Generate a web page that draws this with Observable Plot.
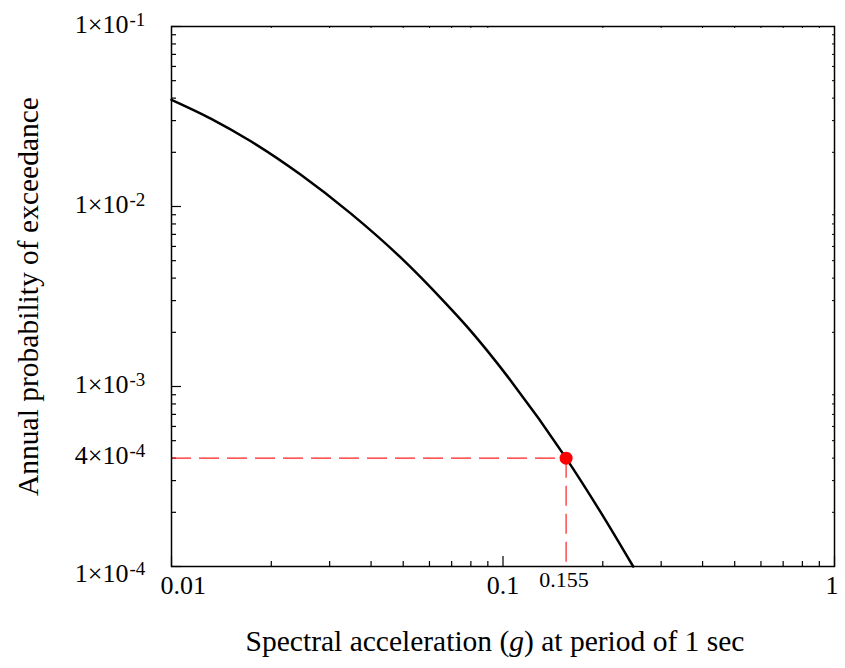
<!DOCTYPE html>
<html>
<head>
<meta charset="utf-8">
<script src="https://cdn.jsdelivr.net/npm/d3@7"></script>
<script src="https://cdn.jsdelivr.net/npm/@observablehq/plot@0.6"></script>
<style>
  body { margin: 0; background: #fff; }
  #chart svg { display: block; }
</style>
</head>
<body>
<div id="chart"></div>
<script>
// Seismic hazard curve: spectral acceleration (g) vs annual probability of exceedance
const accel      = [0.01, 0.01318, 0.0173, 0.0245, 0.0347, 0.0491, 0.0663, 0.078, 0.1054, 0.155, 0.197, 0.247];
const annualProb = [0.03917, 0.03071, 0.02311, 0.01505, 0.009155, 0.005211, 0.002971, 0.002143, 0.001081, 0.0004, 0.0002004, 0.0001];

// Design point
const designAccel = 0.155;
const designProb = 4e-4;

// Tick labels
const yTickValues = [1e-1, 1e-2, 1e-3, 4e-4, 1e-4];
const yTickBase   = ["1×10", "1×10", "1×10", "4×10", "1×10"];
const yTickExp    = ["-1", "-2", "-3", "-4", "-4"];
const xTickValues = [0.01, 0.1, 1];
const xTickLabels = ["0.01", "0.1", "1"];
const designLabel = "0.155";

const xTitle = "Spectral acceleration (g) at period of 1 sec";
const yTitle = "Annual probability of exceedance";

// Layout
const W = 845, H = 668;
const mL = 171, mR = 11, mT = 26, mB = 102;
const plotW = W - mL - mR, plotH = H - mT - mB;
const FONT = "'Liberation Serif', 'DejaVu Serif', serif";

// Log-axis tick positions
const steps = [2, 3, 4, 5, 6, 7, 8, 9];
const majorX = [0.01, 0.1, 1];
const minorX = [0.01, 0.1].flatMap(d => steps.map(k => +(k * d).toPrecision(3)));
const majorY = [1e-1, 1e-2, 1e-3, 1e-4];
const minorY = [1e-4, 1e-3, 1e-2].flatMap(d => steps.map(k => +(k * d).toPrecision(3)));

const curve = accel.map((a, i) => ({a, p: annualProb[i]}));
const yLabels = yTickValues.map((v, i) => ({v, base: yTickBase[i], exp: yTickExp[i]}));
const xLabels = xTickValues.map((v, i) => ({v, label: xTickLabels[i]}));

const tickStyle = {stroke: "black", strokeWidth: 1.2};
const upper = yLabels.filter(d => d.v > 1e-4);
const lowest = yLabels.filter(d => d.v === 1e-4);

const chart = Plot.plot({
  width: W,
  height: H,
  marginLeft: mL,
  marginRight: mR,
  marginTop: mT,
  marginBottom: mB,
  style: {fontFamily: FONT, background: "white", color: "black", overflow: "visible"},
  x: {type: "log", domain: [0.01, 1], axis: null},
  y: {type: "log", domain: [1e-4, 1e-1], axis: null},
  marks: [
    // inward ticks: left and bottom
    Plot.tickY(majorY, {y: d => d, insetRight: plotW - 10, ...tickStyle}),
    Plot.tickY(minorY, {y: d => d, insetRight: plotW - 5, ...tickStyle}),
    Plot.tickX(majorX, {x: d => d, insetTop: plotH - 10, ...tickStyle}),
    Plot.tickX(minorX, {x: d => d, insetTop: plotH - 5, ...tickStyle}),
    // short mirrored ticks: right and top
    Plot.tickY(minorY, {y: d => d, insetLeft: plotW - 2, stroke: "black", strokeWidth: 1}),
    Plot.tickX(minorX, {x: d => d, insetBottom: plotH - 2, stroke: "black", strokeWidth: 1}),

    // design point guides
    Plot.ruleY([designProb], {y: d => d, x1: 0.01, x2: designAccel, stroke: "#ff2020", strokeWidth: 1.2, strokeDasharray: "20,8"}),
    Plot.ruleX([designAccel], {x: d => d, y1: designProb, y2: 1e-4, stroke: "#ff2020", strokeWidth: 1.2, strokeDasharray: "20,8"}),

    // hazard curve
    Plot.line(curve, {x: "a", y: "p", stroke: "black", strokeWidth: 2.5, curve: "monotone-x"}),
    Plot.dot([{a: designAccel, p: designProb}], {x: "a", y: "p", r: 6.5, fill: "#ff0000", stroke: "none"}),

    Plot.frame({stroke: "black", strokeWidth: 1.5}),

    // y tick labels (mantissa×10 with superscript exponent)
    Plot.text(upper, {y: "v", text: "base", frameAnchor: "left", textAnchor: "end", dx: -43, dy: -2, fontSize: 26, fill: "black"}),
    Plot.text(upper, {y: "v", text: "exp", frameAnchor: "left", textAnchor: "start", dx: -42, dy: -7, fontSize: 19, fill: "black"}),
    Plot.text(lowest, {y: "v", text: "base", frameAnchor: "left", textAnchor: "end", dx: -43, dy: 7, fontSize: 26, fill: "black"}),
    Plot.text(lowest, {y: "v", text: "exp", frameAnchor: "left", textAnchor: "start", dx: -42, dy: 2, fontSize: 19, fill: "black"}),

    // x tick labels
    Plot.text(xLabels.slice(0, 1), {x: "v", text: "label", frameAnchor: "bottom", textAnchor: "start", dx: -11, dy: 27, fontSize: 26, fill: "black"}),
    Plot.text(xLabels.slice(1, 2), {x: "v", text: "label", frameAnchor: "bottom", textAnchor: "middle", dy: 27, fontSize: 26, fill: "black"}),
    Plot.text(xLabels.slice(2), {x: "v", text: "label", frameAnchor: "bottom", textAnchor: "end", dx: 4, dy: 27, fontSize: 26, fill: "black"}),
    Plot.text([designAccel], {x: d => d, text: () => designLabel, frameAnchor: "bottom", textAnchor: "middle", dx: -2, dy: 20, fontSize: 22, fill: "black"}),

    // axis titles
    Plot.text([xTitle], {text: d => d, frameAnchor: "bottom", textAnchor: "middle", dx: -8, dy: 84, fontSize: 29.5, fill: "black", className: "x-title"}),
    Plot.text([yTitle], {text: d => d, frameAnchor: "left", textAnchor: "middle", dx: -143, rotate: -90, fontSize: 29.5, fill: "black"})
  ]
});

// italicise the variable symbol "g" in the x title
d3.select(chart).selectAll(".x-title text").each(function () {
  const t = this.textContent;
  const i = t.indexOf("(g)");
  if (i < 0) return;
  const el = d3.select(this);
  el.text(null);
  el.append("tspan").text(t.slice(0, i + 1));
  el.append("tspan").attr("font-style", "italic").text("g");
  el.append("tspan").text(t.slice(i + 2));
});

document.getElementById("chart").append(chart);
</script>
</body>
</html>
